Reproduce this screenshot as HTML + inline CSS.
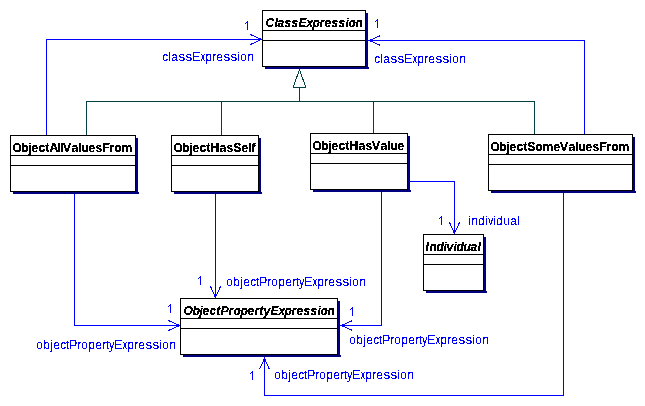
<!DOCTYPE html>
<html><head><meta charset="utf-8"><title>UML</title>
<style>
html,body{margin:0;padding:0;background:#fff;}
body{width:645px;height:406px;overflow:hidden;font-family:"Liberation Sans",sans-serif;}
svg{display:block;}
text{font-family:"Liberation Sans",sans-serif;font-size:12px;white-space:pre;}
.t{font-weight:bold;fill:#000;}
.ti{font-weight:bold;font-style:italic;fill:#000;}
.l{fill:#0000ff;}
</style></head><body>
<svg width="645" height="406" viewBox="0 0 645 406">
<rect x="0" y="0" width="645" height="406" fill="#fff"/>
<g shape-rendering="crispEdges" fill="none" stroke-width="1">
<rect x="86" y="101" width="449" height="1" fill="#004040" stroke="none"/>
<rect x="86" y="101" width="1" height="34" fill="#004040" stroke="none"/>
<rect x="221" y="101" width="1" height="34" fill="#004040" stroke="none"/>
<rect x="373" y="101" width="1" height="32" fill="#004040" stroke="none"/>
<rect x="534" y="101" width="1" height="33" fill="#004040" stroke="none"/>
<rect x="299" y="87" width="1" height="15" fill="#004040" stroke="none"/>
<rect x="293" y="87" width="13" height="1" fill="#004040" stroke="none"/>
<line x1="299.5" y1="69.5" x2="293.5" y2="86.5" stroke="#004040"/>
<line x1="299.5" y1="69.5" x2="305.5" y2="86.5" stroke="#004040"/>
<rect x="293" y="86" width="1" height="2" fill="#004040" stroke="none"/>
<rect x="305" y="86" width="1" height="2" fill="#004040" stroke="none"/>
<rect x="46" y="39" width="1" height="96" fill="#0000ff" stroke="none"/>
<rect x="46" y="39" width="216" height="1" fill="#0000ff" stroke="none"/>
<line x1="261.5" y1="39.5" x2="250.5" y2="34.5" stroke="#0000ff"/>
<line x1="261.5" y1="39.5" x2="250.5" y2="44.5" stroke="#0000ff"/>
<rect x="584" y="40" width="1" height="94" fill="#0000ff" stroke="none"/>
<rect x="368" y="40" width="217" height="1" fill="#0000ff" stroke="none"/>
<line x1="369.5" y1="40.5" x2="380.5" y2="35.5" stroke="#0000ff"/>
<line x1="369.5" y1="40.5" x2="380.5" y2="45.5" stroke="#0000ff"/>
<rect x="74" y="194" width="1" height="132" fill="#0000ff" stroke="none"/>
<rect x="74" y="325" width="106" height="1" fill="#0000ff" stroke="none"/>
<line x1="179.5" y1="325.5" x2="168.5" y2="320.5" stroke="#0000ff"/>
<line x1="179.5" y1="325.5" x2="168.5" y2="330.5" stroke="#0000ff"/>
<rect x="215" y="194" width="1" height="104" fill="#0000ff" stroke="none"/>
<line x1="215.5" y1="297.5" x2="210.5" y2="286.5" stroke="#0000ff"/>
<line x1="215.5" y1="297.5" x2="220.5" y2="286.5" stroke="#0000ff"/>
<rect x="381" y="192" width="1" height="134" fill="#0000ff" stroke="none"/>
<rect x="340" y="325" width="42" height="1" fill="#0000ff" stroke="none"/>
<line x1="341.5" y1="325.5" x2="352.5" y2="320.5" stroke="#0000ff"/>
<line x1="341.5" y1="325.5" x2="352.5" y2="330.5" stroke="#0000ff"/>
<rect x="410" y="181" width="45" height="1" fill="#0000ff" stroke="none"/>
<rect x="454" y="181" width="1" height="53" fill="#0000ff" stroke="none"/>
<line x1="454.5" y1="233.5" x2="449.5" y2="222.5" stroke="#0000ff"/>
<line x1="454.5" y1="233.5" x2="459.5" y2="222.5" stroke="#0000ff"/>
<rect x="563" y="193" width="1" height="203" fill="#0000ff" stroke="none"/>
<rect x="264" y="395" width="300" height="1" fill="#0000ff" stroke="none"/>
<rect x="264" y="357" width="1" height="39" fill="#0000ff" stroke="none"/>
<line x1="264.5" y1="358.5" x2="259.5" y2="369.5" stroke="#0000ff"/>
<line x1="264.5" y1="358.5" x2="269.5" y2="369.5" stroke="#0000ff"/>
<rect x="366" y="13" width="2" height="56" fill="#000080" stroke="none"/>
<rect x="265" y="67" width="104" height="2" fill="#000080" stroke="none"/>
<rect x="262" y="10" width="104" height="57" fill="#000" stroke="none"/>
<rect x="263" y="11" width="102" height="55" fill="#fff" stroke="none"/>
<rect x="262" y="30" width="104" height="1" fill="#000" stroke="none"/>
<rect x="262" y="40" width="104" height="1" fill="#000" stroke="none"/>
<rect x="136" y="138" width="2" height="56" fill="#000080" stroke="none"/>
<rect x="13" y="192" width="126" height="2" fill="#000080" stroke="none"/>
<rect x="10" y="135" width="126" height="57" fill="#000" stroke="none"/>
<rect x="11" y="136" width="124" height="55" fill="#fff" stroke="none"/>
<rect x="10" y="155" width="126" height="1" fill="#000" stroke="none"/>
<rect x="10" y="165" width="126" height="1" fill="#000" stroke="none"/>
<rect x="259" y="138" width="2" height="56" fill="#000080" stroke="none"/>
<rect x="174" y="192" width="88" height="2" fill="#000080" stroke="none"/>
<rect x="171" y="135" width="88" height="57" fill="#000" stroke="none"/>
<rect x="172" y="136" width="86" height="55" fill="#fff" stroke="none"/>
<rect x="171" y="155" width="88" height="1" fill="#000" stroke="none"/>
<rect x="171" y="165" width="88" height="1" fill="#000" stroke="none"/>
<rect x="408" y="136" width="2" height="56" fill="#000080" stroke="none"/>
<rect x="313" y="190" width="98" height="2" fill="#000080" stroke="none"/>
<rect x="310" y="133" width="98" height="57" fill="#000" stroke="none"/>
<rect x="311" y="134" width="96" height="55" fill="#fff" stroke="none"/>
<rect x="310" y="153" width="98" height="1" fill="#000" stroke="none"/>
<rect x="310" y="163" width="98" height="1" fill="#000" stroke="none"/>
<rect x="633" y="137" width="2" height="56" fill="#000080" stroke="none"/>
<rect x="491" y="191" width="145" height="2" fill="#000080" stroke="none"/>
<rect x="488" y="134" width="145" height="57" fill="#000" stroke="none"/>
<rect x="489" y="135" width="143" height="55" fill="#fff" stroke="none"/>
<rect x="488" y="154" width="145" height="1" fill="#000" stroke="none"/>
<rect x="488" y="164" width="145" height="1" fill="#000" stroke="none"/>
<rect x="484" y="237" width="2" height="56" fill="#000080" stroke="none"/>
<rect x="426" y="291" width="61" height="2" fill="#000080" stroke="none"/>
<rect x="423" y="234" width="61" height="57" fill="#000" stroke="none"/>
<rect x="424" y="235" width="59" height="55" fill="#fff" stroke="none"/>
<rect x="423" y="254" width="61" height="1" fill="#000" stroke="none"/>
<rect x="423" y="264" width="61" height="1" fill="#000" stroke="none"/>
<rect x="338" y="301" width="2" height="56" fill="#000080" stroke="none"/>
<rect x="183" y="355" width="158" height="2" fill="#000080" stroke="none"/>
<rect x="180" y="298" width="158" height="57" fill="#000" stroke="none"/>
<rect x="181" y="299" width="156" height="55" fill="#fff" stroke="none"/>
<rect x="180" y="318" width="158" height="1" fill="#000" stroke="none"/>
<rect x="180" y="328" width="158" height="1" fill="#000" stroke="none"/>
<rect x="247" y="21" width="1" height="9" fill="#0000ff" stroke="none"/>
<rect x="246" y="22" width="1" height="1" fill="#0000ff" stroke="none"/>
<rect x="245" y="23" width="1" height="1" fill="#0000ff" stroke="none"/>
<rect x="377" y="19" width="1" height="9" fill="#0000ff" stroke="none"/>
<rect x="376" y="20" width="1" height="1" fill="#0000ff" stroke="none"/>
<rect x="375" y="21" width="1" height="1" fill="#0000ff" stroke="none"/>
<rect x="441" y="216" width="1" height="9" fill="#0000ff" stroke="none"/>
<rect x="440" y="217" width="1" height="1" fill="#0000ff" stroke="none"/>
<rect x="439" y="218" width="1" height="1" fill="#0000ff" stroke="none"/>
<rect x="200" y="276" width="1" height="9" fill="#0000ff" stroke="none"/>
<rect x="199" y="277" width="1" height="1" fill="#0000ff" stroke="none"/>
<rect x="198" y="278" width="1" height="1" fill="#0000ff" stroke="none"/>
<rect x="170" y="304" width="1" height="9" fill="#0000ff" stroke="none"/>
<rect x="169" y="305" width="1" height="1" fill="#0000ff" stroke="none"/>
<rect x="168" y="306" width="1" height="1" fill="#0000ff" stroke="none"/>
<rect x="352" y="307" width="1" height="9" fill="#0000ff" stroke="none"/>
<rect x="351" y="308" width="1" height="1" fill="#0000ff" stroke="none"/>
<rect x="350" y="309" width="1" height="1" fill="#0000ff" stroke="none"/>
<rect x="252" y="371" width="1" height="9" fill="#0000ff" stroke="none"/>
<rect x="251" y="372" width="1" height="1" fill="#0000ff" stroke="none"/>
<rect x="250" y="373" width="1" height="1" fill="#0000ff" stroke="none"/>
</g>
<defs><filter id="th" x="0" y="0" width="645" height="406" filterUnits="userSpaceOnUse" color-interpolation-filters="sRGB"><feComponentTransfer><feFuncA type="discrete" tableValues="0 0 1 1 1"/></feComponentTransfer></filter></defs>
<defs><filter id="tb" x="0" y="0" width="645" height="406" filterUnits="userSpaceOnUse" color-interpolation-filters="sRGB"><feComponentTransfer><feFuncA type="discrete" tableValues="0 1 1"/></feComponentTransfer></filter></defs>
<g filter="url(#tb)">
<text class="ti" transform="translate(0,27) scale(1,1.045)" x="265.5 274.5 277.5 284.5 291.5 298.5 306.5 312.5 319.5 324.5 331.5 338.5 345.5 348.5 355.5" y="0">ClassExpression</text>
<text class="t" transform="translate(0,152) scale(1,1.045)" x="12.5 21.5 28.5 31.5 38.5 45.5 49.5 57.5 60.5 71.5 78.5 81.5 88.5 95.5 102.5 109.5 114.5 121.5" y="0">ObjectAllaluesFrom</text><text class="t" transform="translate(62.9,152) scale(1.0,1.045)" x="0" y="0">V</text>
<text class="t" transform="translate(0,152) scale(1,1.045)" x="173.5 182.5 189.5 192.5 199.5 206.5 210.5 219.5 226.5 233.5 241.5 248.5 251.5" y="0">ObjectHasSelf</text>
<text class="t" transform="translate(0,150) scale(1,1.045)" x="312.5 321.5 328.5 331.5 338.5 345.5 349.5 358.5 365.5 380.5 387.5 390.5 397.5" y="0">ObjectHasalue</text><text class="t" transform="translate(371.9,150) scale(1.0,1.045)" x="0" y="0">V</text>
<text class="t" transform="translate(0,151) scale(1,1.045)" x="490.5 499.5 506.5 509.5 516.5 523.5 527.5 535.5 542.5 553.5 568.5 575.5 578.5 585.5 592.5 599.5 606.5 611.5 618.5" y="0">ObjectSomealuesFrom</text><text class="t" transform="translate(559.9,151) scale(1.0,1.045)" x="0" y="0">V</text>
<text class="ti" transform="translate(0,251) scale(1,1.045)" x="425.5 429.5 436.5 443.5 446.5 453.5 456.5 463.5 470.5 477.5" y="0">Individual</text>
<text class="ti" transform="translate(0,315) scale(1,1.045)" x="183.5 192.5 199.5 202.5 209.5 216.5 220.5 228.5 233.5 240.5 247.5 254.5 259.5 263.5 270.5 278.5 284.5 291.5 296.5 303.5 310.5 317.5 320.5 327.5" y="0">ObjectPropertyExpression</text>
</g>
<g filter="url(#th)">
<text class="l" transform="translate(0,61) scale(1,1.045)" x="162.25 168.25 171.25 192.25 205.25 212.25 216.25 237.25 240.25 247.25" y="0">claEpreion</text><text class="l" transform="translate(178.4,61) scale(1.1,1.045)" x="0" y="0">s</text><text class="l" transform="translate(185.4,61) scale(1.1,1.045)" x="0" y="0">s</text><text class="l" transform="translate(200.7,61) scale(0.74,1.045)" x="0" y="0">x</text><text class="l" transform="translate(223.4,61) scale(1.1,1.045)" x="0" y="0">s</text><text class="l" transform="translate(230.4,61) scale(1.1,1.045)" x="0" y="0">s</text>
<text class="l" transform="translate(0,63) scale(1,1.045)" x="374.25 380.25 383.25 404.25 417.25 424.25 428.25 449.25 452.25 459.25" y="0">claEpreion</text><text class="l" transform="translate(390.4,63) scale(1.1,1.045)" x="0" y="0">s</text><text class="l" transform="translate(397.4,63) scale(1.1,1.045)" x="0" y="0">s</text><text class="l" transform="translate(412.7,63) scale(0.74,1.045)" x="0" y="0">x</text><text class="l" transform="translate(435.4,63) scale(1.1,1.045)" x="0" y="0">s</text><text class="l" transform="translate(442.4,63) scale(1.1,1.045)" x="0" y="0">s</text>
<text class="l" transform="translate(0,225) scale(1,1.045)" x="468.25 471.25 478.25 485.25 493.25 496.25 503.25 510.25 517.25" y="0">indiidual</text><text class="l" transform="translate(488.35,225) scale(0.83,1.045)" x="0" y="0">v</text>
<text class="l" transform="translate(0,286) scale(1,1.045)" x="226.25 233.25 240.25 243.25 250.25 256.25 259.25 267.25 271.25 278.25 285.25 292.25 296.25 304.25 317.25 324.25 328.25 349.25 352.25 359.25" y="0">objectPropertEpreion</text><text class="l" transform="translate(299.35,286) scale(0.83,1.045)" x="0" y="0">y</text><text class="l" transform="translate(312.7,286) scale(0.74,1.045)" x="0" y="0">x</text><text class="l" transform="translate(335.4,286) scale(1.1,1.045)" x="0" y="0">s</text><text class="l" transform="translate(342.4,286) scale(1.1,1.045)" x="0" y="0">s</text>
<text class="l" transform="translate(0,349) scale(1,1.045)" x="36.25 43.25 50.25 53.25 60.25 66.25 69.25 77.25 81.25 88.25 95.25 102.25 106.25 114.25 127.25 134.25 138.25 159.25 162.25 169.25" y="0">objectPropertEpreion</text><text class="l" transform="translate(109.35,349) scale(0.83,1.045)" x="0" y="0">y</text><text class="l" transform="translate(122.7,349) scale(0.74,1.045)" x="0" y="0">x</text><text class="l" transform="translate(145.4,349) scale(1.1,1.045)" x="0" y="0">s</text><text class="l" transform="translate(152.4,349) scale(1.1,1.045)" x="0" y="0">s</text>
<text class="l" transform="translate(0,344) scale(1,1.045)" x="349.25 356.25 363.25 366.25 373.25 379.25 382.25 390.25 394.25 401.25 408.25 415.25 419.25 427.25 440.25 447.25 451.25 472.25 475.25 482.25" y="0">objectPropertEpreion</text><text class="l" transform="translate(422.35,344) scale(0.83,1.045)" x="0" y="0">y</text><text class="l" transform="translate(435.7,344) scale(0.74,1.045)" x="0" y="0">x</text><text class="l" transform="translate(458.4,344) scale(1.1,1.045)" x="0" y="0">s</text><text class="l" transform="translate(465.4,344) scale(1.1,1.045)" x="0" y="0">s</text>
<text class="l" transform="translate(0,379) scale(1,1.045)" x="274.25 281.25 288.25 291.25 298.25 304.25 307.25 315.25 319.25 326.25 333.25 340.25 344.25 352.25 365.25 372.25 376.25 397.25 400.25 407.25" y="0">objectPropertEpreion</text><text class="l" transform="translate(347.35,379) scale(0.83,1.045)" x="0" y="0">y</text><text class="l" transform="translate(360.7,379) scale(0.74,1.045)" x="0" y="0">x</text><text class="l" transform="translate(383.4,379) scale(1.1,1.045)" x="0" y="0">s</text><text class="l" transform="translate(390.4,379) scale(1.1,1.045)" x="0" y="0">s</text>
</g>
</svg>
</body></html>
